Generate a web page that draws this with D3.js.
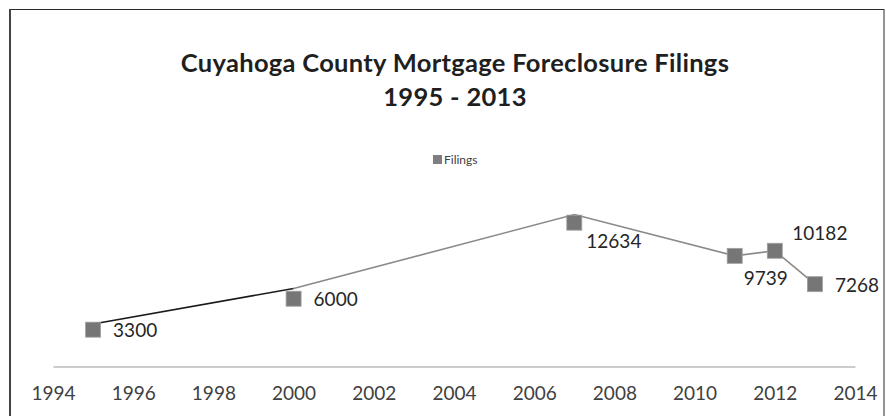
<!DOCTYPE html>
<html>
<head>
<meta charset="utf-8">
<script src="https://cdn.jsdelivr.net/npm/d3@7"></script>
<style>
  html, body { margin: 0; padding: 0; background: #fff; }
  svg { display: block; }
</style>
</head>
<body>
<svg id="chart" width="886" height="416"></svg>
<script>
// ---- data ----
const years = [1995, 2000, 2007, 2011, 2012, 2013];
const filings = [3300, 6000, 12634, 9739, 10182, 7268];
// the connecting line drawn in the original (sits slightly above the early markers)
const lineValues = [3790, 6890, 13340, 9739, 10182, 7268];
const xTicks = [1994, 1996, 1998, 2000, 2002, 2004, 2006, 2008, 2010, 2012, 2014];
const labelPlacement = ["right", "right", "belowRight", "below", "aboveRight", "right"];
const titleLines = ["Cuyahoga County Mortgage Foreclosure Filings", "1995 - 2013"];
const seriesName = "Filings";

// ---- setup ----
const W = 886, H = 416;
const svg = d3.select("#chart");
const font = "Lato, 'Open Sans', sans-serif";

const x = d3.scaleLinear().domain([1994, 2014]).range([53, 855]);
const y = d3.scaleLinear().domain([0, 14000]).range([367.5, 207]);

// frame
svg.append("rect").attr("x", 10).attr("y", 9.5).attr("width", 874).attr("height", 420)
  .attr("fill", "none").attr("stroke", "#2a2a2a").attr("stroke-width", 1);
svg.append("line").attr("x1", 10).attr("x2", 10).attr("y1", 9).attr("y2", H)
  .attr("stroke", "#444").attr("stroke-width", 2);

// title
svg.append("g").selectAll("text").data(titleLines).join("text")
  .attr("x", 455).attr("y", (d, i) => 72 + i * 34)
  .attr("text-anchor", "middle")
  .attr("font-family", font).attr("font-weight", "bold").attr("font-size", 25.5)
  .attr("letter-spacing", 0.3)
  .attr("fill", "#1f1f1f")
  .text(d => d);

// legend
const lg = svg.append("g").attr("transform", "translate(433,155)");
lg.append("rect").attr("width", 9).attr("height", 9).attr("fill", "#7f7f7f");
lg.append("text").attr("x", 11).attr("y", 4.5).attr("dy", "0.35em")
  .attr("font-family", font).attr("font-size", 12).attr("fill", "#404040").text(seriesName);

// x axis
const xAxis = d3.axisBottom(x).tickValues(xTicks).tickFormat(d3.format("d")).tickSize(0).tickPadding(20);
const ax = svg.append("g").attr("transform", `translate(0,${y(0) - 1})`).call(xAxis);
ax.select(".domain").attr("stroke", "#9a9a9a").attr("stroke-width", 1.2);
ax.selectAll("text").attr("font-family", font).attr("font-size", 19).attr("fill", "#404040");

// lines
const pts = years.map((yr, i) => [x(yr), y(lineValues[i])]);
const lineGen = d3.line();
svg.append("path").attr("d", lineGen(pts.slice(0, 2)))
  .attr("fill", "none").attr("stroke", "#1a1a1a").attr("stroke-width", 1.6);
svg.append("path").attr("d", lineGen(pts.slice(1)))
  .attr("fill", "none").attr("stroke", "#8a8a8a").attr("stroke-width", 1.6);

// markers
const ms = 15;
svg.append("g").selectAll("rect").data(years).join("rect")
  .attr("x", (d) => x(d) - ms / 2)
  .attr("y", (d, i) => y(filings[i]) - ms / 2)
  .attr("width", ms).attr("height", ms)
  .attr("fill", "#767676").attr("stroke", "#a0a0a0").attr("stroke-width", 0.8);

// data labels
const offsets = {
  right: [20, 1],
  belowRight: [12, 19],
  below: [9, 23],
  aboveRight: [17.5, -17]
};
svg.append("g").selectAll("text").data(years).join("text")
  .attr("x", (d, i) => x(d) + offsets[labelPlacement[i]][0])
  .attr("y", (d, i) => y(filings[i]) + offsets[labelPlacement[i]][1])
  .attr("dy", "0.35em")
  .attr("font-family", font).attr("font-size", 19).attr("fill", "#262626")
  .text((d, i) => filings[i]);
</script>
</body>
</html>
